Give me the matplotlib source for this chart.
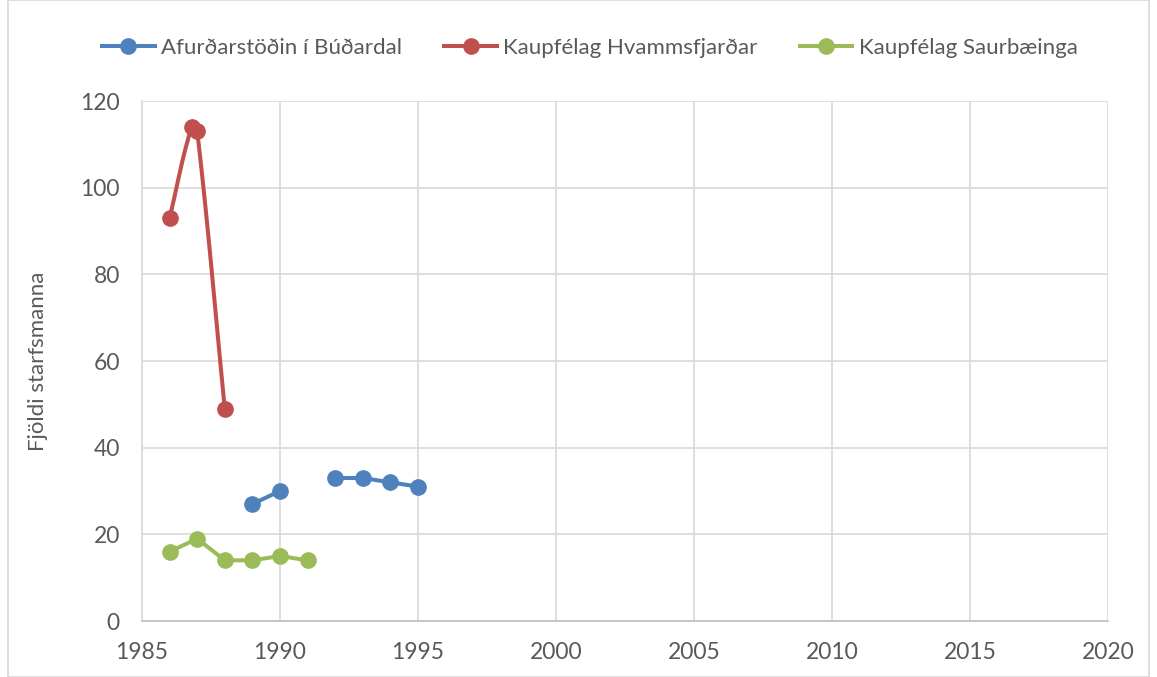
import numpy as np
import matplotlib.pyplot as plt
from matplotlib.patches import Rectangle

plt.rcParams['font.family'] = ['Lato', 'DejaVu Sans']

# gögn
blue_year = [1989, 1990, 1991, 1992, 1993, 1994, 1995]
blue_val = [27, 30, np.nan, 33, 33, 32, 31]
red_year = [1986, 1986.8, 1987, 1988]
red_val = [93, 114, 113, 49]
green_year = [1986, 1987, 1988, 1989, 1990, 1991]
green_val = [16, 19, 14, 14, 15, 14]

names = ['Afurðarstöðin í Búðardal', 'Kaupfélag Hvammsfjarðar', 'Kaupfélag Saurbæinga']
colors = ['#4f81bd', '#c0504d', '#9bbb59']
text_col = '#595959'


def smooth(x, y, sx=27.6, sy=4.33, n=40):
    # bezier-sléttun eins og í Excel, reiknuð í pixlum svo ekki myndist lykkjur
    p = np.column_stack([np.asarray(x, float) * sx, np.asarray(y, float) * sy])
    k = len(p)
    tang = []
    for i in range(k):
        d = p[min(i + 1, k - 1)] - p[max(i - 1, 0)]
        tang.append(d / np.linalg.norm(d))
    t = np.linspace(0, 1, n)[:, None]
    out = []
    for i in range(k - 1):
        L = np.linalg.norm(p[i + 1] - p[i]) / 3
        p0, p3 = p[i], p[i + 1]
        p1 = p0 + tang[i] * L
        p2 = p3 - tang[i + 1] * L
        b = (1 - t) ** 3 * p0 + 3 * (1 - t) ** 2 * t * p1 + 3 * (1 - t) * t ** 2 * p2 + t ** 3 * p3
        out.append(b)
    out = np.vstack(out)
    return out[:, 0] / sx, out[:, 1] / sy


fig = plt.figure(figsize=(11.57, 6.77), dpi=100)
ax = fig.add_axes([142 / 1157, 1 - 621 / 677, (1108 - 142) / 1157, (621 - 101) / 677])

lw = 2.9
ms = 11
ax.plot(blue_year, blue_val, color=colors[0], lw=lw, marker='o', ms=ms, zorder=3)
cx, cy = smooth(red_year, red_val)
ax.plot(cx, cy, color=colors[1], lw=lw, zorder=3)
ax.plot(red_year, red_val, color=colors[1], lw=0, marker='o', ms=ms, zorder=4)
ax.plot(green_year, green_val, color=colors[2], lw=lw, marker='o', ms=ms, zorder=3)

ax.set_xlim(1985, 2020)
ax.set_ylim(0, 120)
ax.set_xticks(range(1985, 2021, 5))
ax.set_yticks(range(0, 121, 20))
ax.grid(True, color='#d9d9d9', lw=1.2)
ax.set_axisbelow(True)
for s in ['top', 'right']:
    ax.spines[s].set_visible(False)
ax.spines['left'].set_color('#d9d9d9')
ax.spines['bottom'].set_color('#bfbfbf')
ax.spines['left'].set_linewidth(1.2)
ax.spines['bottom'].set_linewidth(1.2)
ax.tick_params(length=0, labelsize=16.5, colors=text_col)
ax.tick_params(axis='x', pad=15)
ax.tick_params(axis='y', pad=16)
ax.set_ylabel('Fjöldi starfsmanna', fontsize=16, color=text_col, labelpad=23)

handles = [plt.Line2D([], [], color=c, lw=lw, marker='o', ms=ms) for c in colors]
fig.legend(handles, names, loc='center', bbox_to_anchor=(590 / 1157, 1 - 48 / 677),
           ncol=3, frameon=False, fontsize=16, labelcolor=text_col,
           handlelength=2.35, handletextpad=0.3, columnspacing=1.9)

fig.patches.append(Rectangle((8 / 1157, 0.0), 1 - 16 / 1157, 1.0, transform=fig.transFigure,
                             fill=False, edgecolor='#d9d9d9', lw=1.2))

fig.savefig('out.png', dpi=100)
